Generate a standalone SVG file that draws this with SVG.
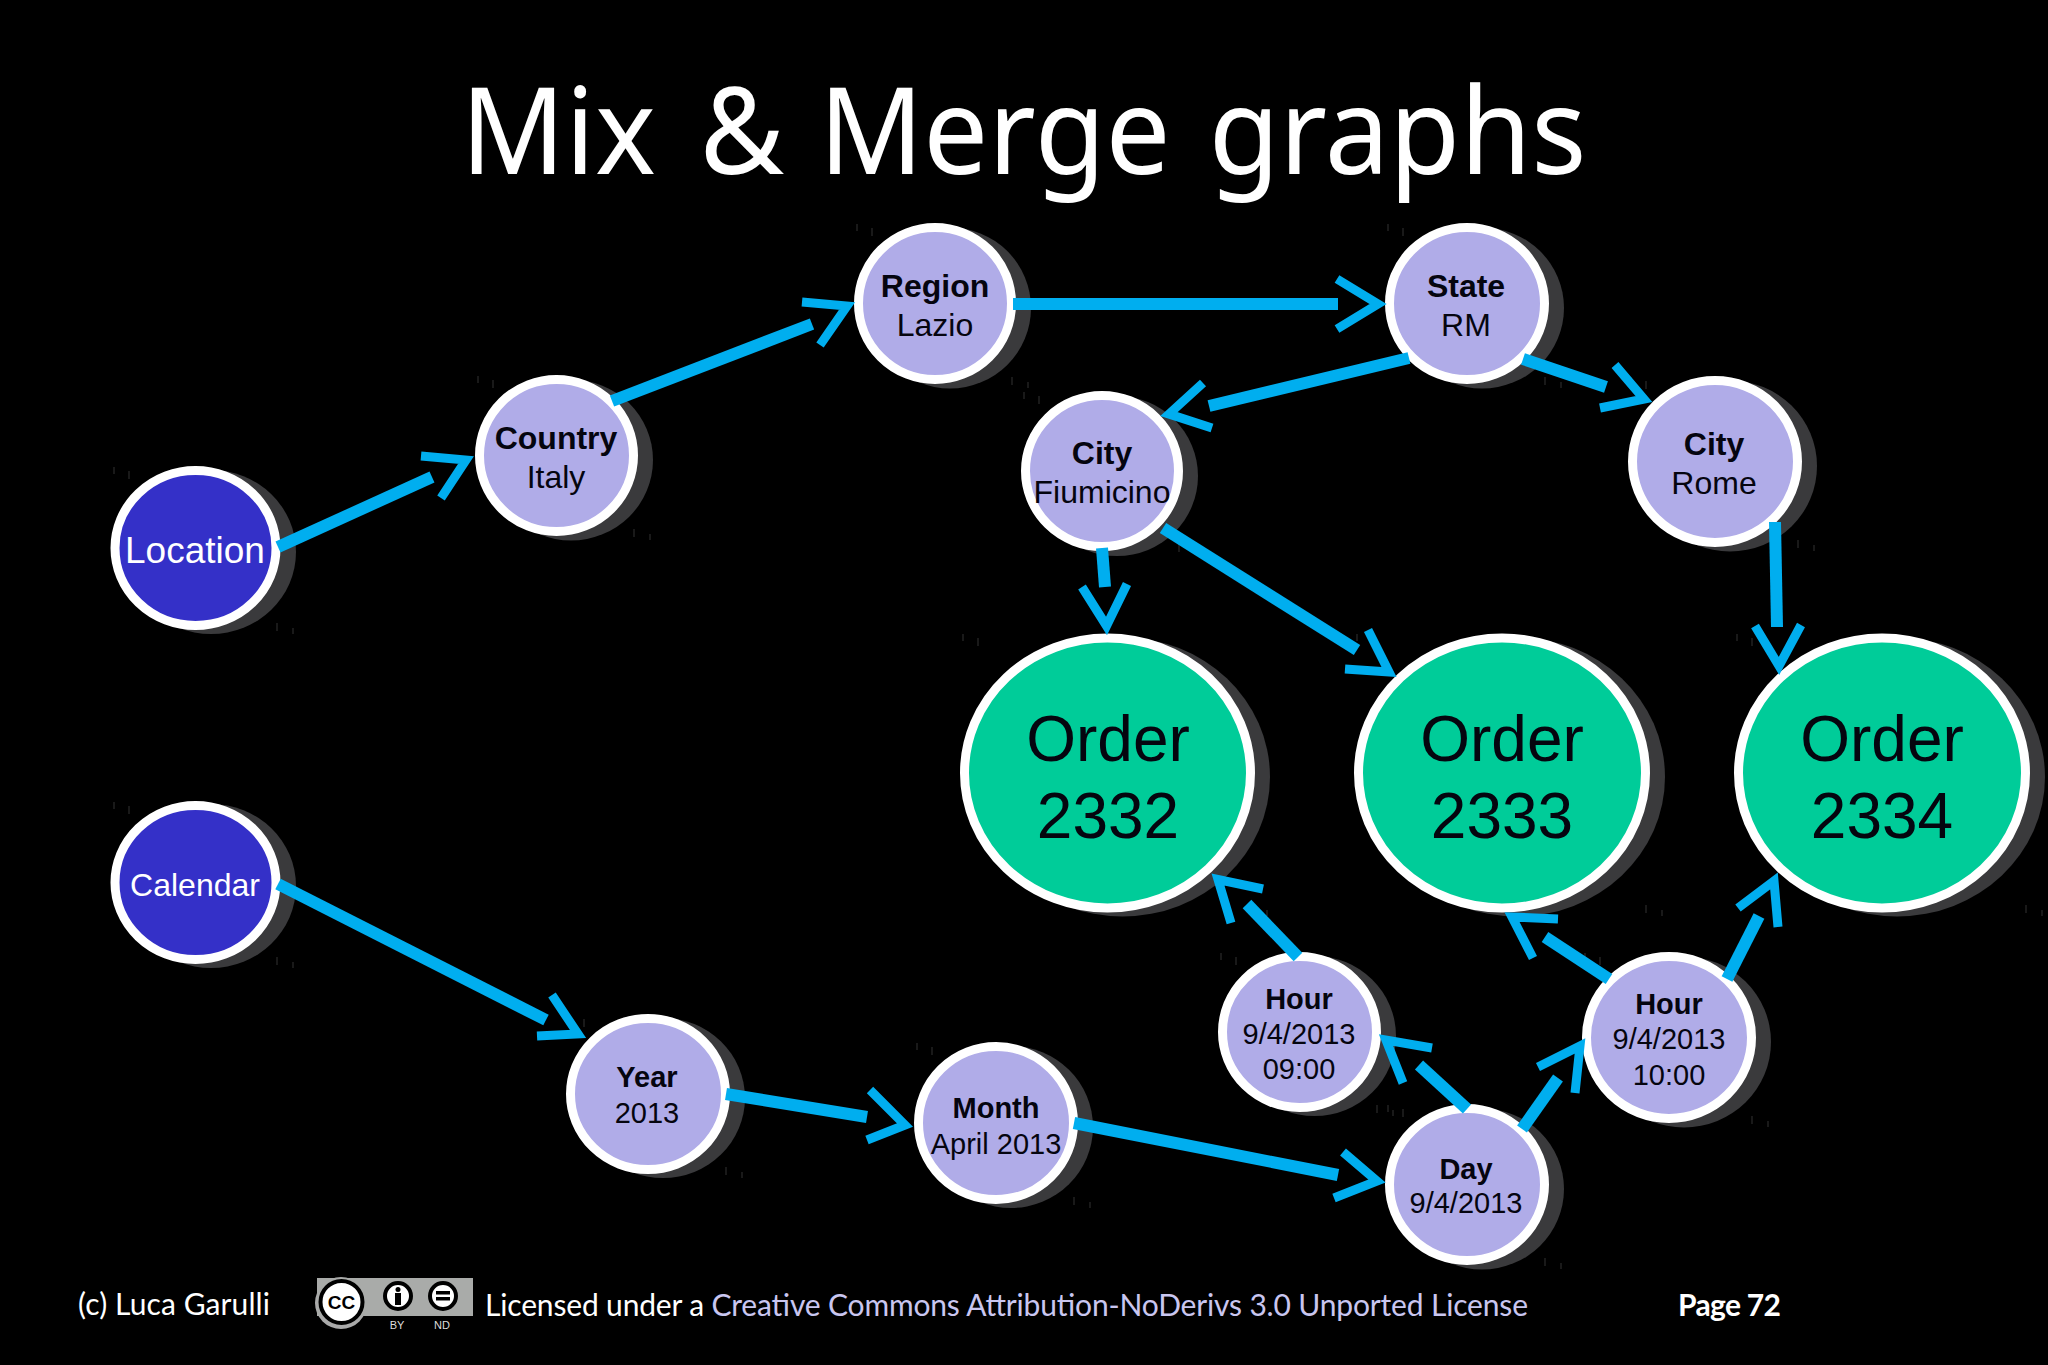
<svg xmlns="http://www.w3.org/2000/svg" width="2048" height="1365" viewBox="0 0 2048 1365">
<style>
text{font-family:"Liberation Sans",Arial,sans-serif;text-anchor:middle;fill:#05050f}
.shadow{fill:#3a3a3c}
.ring{stroke:#fff;stroke-width:9}
.root{fill:#3430c8}.mid{fill:#b0ace8}.order{fill:#00cc99}
.tick{stroke:#333;stroke-width:1;fill:none}
.b32{font-size:32px;font-weight:700}.r32{font-size:32px}
.b29{font-size:29px;font-weight:700}.r29{font-size:29px}
.big{font-size:64px}
.wt{fill:#fff}
.line{stroke:#00aeef;stroke-width:12;fill:none}
.head{stroke:#00aeef;stroke-width:9;fill:none;stroke-linejoin:miter;stroke-miterlimit:8}
.foot{font-family:Lato,"Noto Sans",sans-serif;font-size:30px;text-anchor:start;fill:#fff}
.title{font-family:"Noto Sans",sans-serif;font-size:120px;fill:#fff;text-anchor:start}
</style>
<rect width="2048" height="1365" fill="#000"/>
<text class="title" y="174" transform="scale(.96 1)"><tspan x="480">Mix </tspan><tspan x="729">&amp; </tspan><tspan x="853">Merge </tspan><tspan x="1259">graphs</tspan></text>

<g id="node-location"><path class="tick" d="M114 467v7M129 471v8M277 623v8M293 628v6"/><ellipse class="shadow" cx="211" cy="552" rx="85" ry="82"/><ellipse class="ring root" cx="195.500" cy="548" rx="80.500" ry="77.500"/><text class="wt" x="195" y="563" font-size="37">Location</text></g>
<g id="node-country"><path class="tick" d="M478 376v7M493 380v8M634 529v8M650 534v6"/><ellipse class="shadow" cx="571" cy="460" rx="82" ry="80.500"/><ellipse class="ring mid" cx="556.500" cy="455.500" rx="77" ry="76"/><text class="b32" x="556" y="449">Country</text><text class="r32" x="556" y="488">Italy</text></g>
<g id="node-region"><path class="tick" d="M857 224v7M872 228v8M1012 377v8M1028 382v6"/><ellipse class="shadow" cx="950" cy="308" rx="81" ry="80.500"/><ellipse class="ring mid" cx="935" cy="303.500" rx="76.500" ry="76"/><text class="b32" x="935" y="297">Region</text><text class="r32" x="935" y="336">Lazio</text></g>
<g id="node-state"><path class="tick" d="M1388 224v7M1403 228v8M1545 377v8M1561 382v6"/><ellipse class="shadow" cx="1482" cy="308" rx="82" ry="80.500"/><ellipse class="ring mid" cx="1467" cy="303.500" rx="77.500" ry="76"/><text class="b32" x="1466" y="297">State</text><text class="r32" x="1466" y="336">RM</text></g>
<g id="node-city-fiumicino"><path class="tick" d="M1024 392v7M1039 396v8M1179 544v8M1195 549v6"/><ellipse class="shadow" cx="1117" cy="476" rx="81" ry="80"/><ellipse class="ring mid" cx="1102" cy="471" rx="76.500" ry="75.500"/><text class="b32" x="1102" y="464">City</text><text class="r32" x="1102" y="503">Fiumicino</text></g>
<g id="node-city-rome"><path class="tick" d="M1631 377v7M1646 381v8M1798 540v8M1814 545v6"/><ellipse class="shadow" cx="1730" cy="466" rx="87" ry="85.500"/><ellipse class="ring mid" cx="1715" cy="461.500" rx="82.500" ry="81"/><text class="b32" x="1714" y="455">City</text><text class="r32" x="1714" y="494">Rome</text></g>
<g id="node-order-2332"><path class="tick" d="M963 634v7M978 638v8M1251 905v8M1267 910v6"/><ellipse class="shadow" cx="1122.500" cy="777" rx="147.500" ry="139.500"/><ellipse class="ring order" cx="1107.500" cy="773" rx="143" ry="135"/><text class="big" x="1108" y="761">Order</text><text class="big" x="1108" y="838">2332</text></g>
<g id="node-order-2333"><path class="tick" d="M1357 634v7M1372 638v8M1646 905v8M1662 910v6"/><ellipse class="shadow" cx="1517" cy="777" rx="148" ry="139.500"/><ellipse class="ring order" cx="1502" cy="773" rx="143.500" ry="135"/><text class="big" x="1502" y="761">Order</text><text class="big" x="1502" y="838">2333</text></g>
<g id="node-order-2334"><path class="tick" d="M1737 634v7M1752 638v8M2026 905v8M2042 910v6"/><ellipse class="shadow" cx="1897" cy="777" rx="148" ry="139.500"/><ellipse class="ring order" cx="1882" cy="773" rx="143.500" ry="135"/><text class="big" x="1882" y="761">Order</text><text class="big" x="1882" y="838">2334</text></g>
<g id="node-hour-0900"><path class="tick" d="M1221 953v7M1236 957v8M1377 1105v8M1393 1110v6"/><ellipse class="shadow" cx="1314.500" cy="1036" rx="81.500" ry="80"/><ellipse class="ring mid" cx="1299.500" cy="1032" rx="77" ry="75.500"/><text class="b29" x="1299" y="1009">Hour</text><text class="r29" x="1299" y="1044">9/4/2013</text><text class="r29" x="1299" y="1079">09:00</text></g>
<g id="node-hour-1000"><path class="tick" d="M1585 953v7M1600 957v8M1752 1116v8M1768 1121v6"/><ellipse class="shadow" cx="1684" cy="1042" rx="87" ry="85.500"/><ellipse class="ring mid" cx="1669" cy="1037.500" rx="82.500" ry="81"/><text class="b29" x="1669" y="1014">Hour</text><text class="r29" x="1669" y="1049">9/4/2013</text><text class="r29" x="1669" y="1085">10:00</text></g>
<g id="node-day"><path class="tick" d="M1388 1105v7M1403 1109v8M1545 1258v8M1561 1263v6"/><ellipse class="shadow" cx="1482" cy="1189" rx="82" ry="80.500"/><ellipse class="ring mid" cx="1467" cy="1184.500" rx="77.500" ry="76"/><text class="b29" x="1466" y="1179">Day</text><text class="r29" x="1466" y="1213">9/4/2013</text></g>
<g id="node-year"><path class="tick" d="M569 1015v7M584 1019v8M726 1167v8M742 1172v6"/><ellipse class="shadow" cx="663" cy="1098" rx="82" ry="80"/><ellipse class="ring mid" cx="648" cy="1094" rx="77.500" ry="75.500"/><text class="b29" x="647" y="1087">Year</text><text class="r29" x="647" y="1123">2013</text></g>
<g id="node-month"><path class="tick" d="M917 1043v7M932 1047v8M1074 1197v8M1090 1202v6"/><ellipse class="shadow" cx="1011" cy="1127" rx="82" ry="81"/><ellipse class="ring mid" cx="996" cy="1123" rx="77.500" ry="76.500"/><text class="b29" x="996" y="1118">Month</text><text class="r29" x="996" y="1154">April 2013</text></g>
<g id="node-calendar"><path class="tick" d="M114 802v7M129 806v8M277 957v8M293 962v6"/><ellipse class="shadow" cx="211" cy="886" rx="85" ry="82"/><ellipse class="ring root" cx="195.500" cy="882.500" rx="80.500" ry="77"/><text class="wt" x="195" y="896" font-size="32">Calendar</text></g>

<g id="connectors">
<path class="line" d="M278 547L432 477"/><path class="head" d="M421 456L466 460L441 498"/>
<path class="line" d="M612 401L812 324"/><path class="head" d="M802 302L847 306L820 345"/>
<path class="line" d="M1013 304H1338"/><path class="head" d="M1337 279L1378 304L1337 329"/>
<path class="line" d="M1409 358L1209 406"/><path class="head" d="M1203 383L1169 414L1212 428"/>
<path class="line" d="M1523 359L1606 387"/><path class="head" d="M1615 365L1644 399L1600 408"/>
<path class="line" d="M1102 548L1105 587"/><path class="head" d="M1082 587L1106.500 626L1127 584"/>
<path class="line" d="M1163 528L1357 650"/><path class="head" d="M1368 630L1389 672L1345 669"/>
<path class="line" d="M1775 522L1777 627"/><path class="head" d="M1755 626L1779 666L1801 625"/>
<path class="line" d="M1298 957L1247 904"/><path class="head" d="M1263 889L1218 879.500L1231 923"/>
<path class="line" d="M1609 979L1545 937"/><path class="head" d="M1558 919L1512 917L1533 958"/>
<path class="line" d="M1727 979L1759 916"/><path class="head" d="M1738 908L1774 881L1778 927"/>
<path class="line" d="M1467 1109L1419 1065"/><path class="head" d="M1432 1048L1386 1040L1403 1083"/>
<path class="line" d="M1522 1129L1558 1078"/><path class="head" d="M1538 1067L1580 1046L1575 1093"/>
<path class="line" d="M278 884L546 1020"/><path class="head" d="M552 995L578 1034L537 1036"/>
<path class="line" d="M726 1094L867 1117"/><path class="head" d="M870 1090L905 1125L867 1140"/>
<path class="line" d="M1074 1123L1338 1175"/><path class="head" d="M1343 1152L1377 1181L1334 1198"/>
</g>

<g id="footer">
<text class="foot" x="78" y="1315" textLength="192">(c) Luca Garulli</text>
<circle cx="341" cy="1303" r="26" fill="#aaa"/>
<rect x="317" y="1278" width="156" height="38" fill="#a9aba9"/>
<circle cx="341.500" cy="1302" r="21" fill="#fff" stroke="#000" stroke-width="4"/>
<text x="341.500" y="1309" font-size="19" font-weight="700" style="fill:#000">CC</text>
<circle cx="398" cy="1296" r="13" fill="#fff" stroke="#000" stroke-width="4"/>
<circle cx="398" cy="1289.500" r="2.500" fill="#000"/><rect x="395" y="1293" width="6" height="12" fill="#000"/>
<circle cx="443" cy="1296" r="13" fill="#fff" stroke="#000" stroke-width="4"/>
<rect x="436" y="1291" width="14" height="3.500" fill="#000"/><rect x="436" y="1297" width="14" height="3.500" fill="#000"/>
<text x="397" y="1329" font-size="11" style="fill:#ddd">BY</text>
<text x="442" y="1329" font-size="11" style="fill:#ddd">ND</text>
<text class="foot" x="485" y="1316" textLength="1043">Licensed under a <tspan fill="#c9c6f0">Creative Commons Attribution-NoDerivs 3.0 Unported License</tspan></text>
<text class="foot" x="1678" y="1316" font-weight="700" textLength="103">Page 72</text>
</g>
</svg>
